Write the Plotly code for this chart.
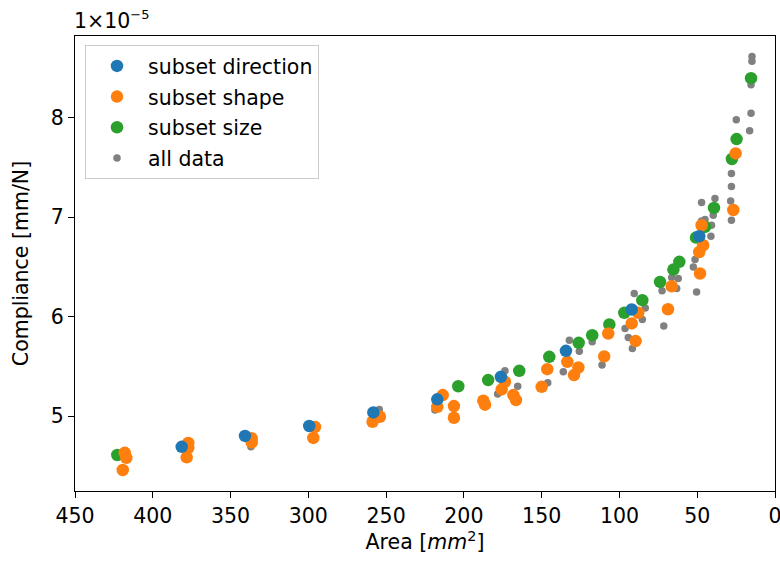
import plotly.graph_objects as go

# Values. Compliance is in units of 1e-5 mm/N (axis offset label "1x10^-5").
dir_area = [381.4, 340.7, 299.4, 258.2, 217.1, 176.2, 134.4, 92.1, 48.7]
dir_comp = [4.69, 4.80, 4.90, 5.037, 5.168, 5.395, 5.656, 6.072, 6.809]

shape_area = [418.0, 417.0, 419.3, 377.2, 377.2, 378.2, 336.4, 336.4, 295.7, 296.8,
              254.0, 258.7, 213.6, 217.1, 206.4, 206.4, 187.5, 186.4, 173.6, 175.7,
              168.2, 166.5, 146.4, 150.0, 133.5, 126.4, 129.2, 107.2, 109.8, 87.9,
              92.1, 89.6, 68.8, 66.4, 47.2, 46.2, 48.7, 48.2, 26.8, 25.3]
shape_comp = [4.63, 4.58, 4.457, 4.73, 4.68, 4.585, 4.776, 4.735, 4.89, 4.78,
              4.993, 4.943, 5.211, 5.093, 5.10, 4.983, 5.155, 5.115, 5.345, 5.268,
              5.211, 5.161, 5.472, 5.294, 5.546, 5.489, 5.412, 5.831, 5.60, 6.039,
              5.932, 5.754, 6.075, 6.306, 6.92, 6.719, 6.651, 6.434, 7.073, 7.643]

size_area = [422.8, 203.6, 184.4, 164.4, 145.1, 126.2, 117.5, 106.5, 96.9, 85.3,
             73.9, 65.3, 61.5, 50.8, 45.0, 39.2, 27.7, 24.7, 15.4]
size_comp = [4.608, 5.30, 5.362, 5.455, 5.596, 5.737, 5.814, 5.922, 6.039, 6.166,
             6.35, 6.474, 6.552, 6.796, 6.903, 7.094, 7.586, 7.787, 8.40]

# remaining measurements of the full data set (not in any subset)
rest_area = [336.9, 254.4, 218.6, 173.6, 178.3, 165.4, 146.1, 132.2, 125.8, 136.1,
             117.5, 111.2, 90.5, 83.4, 85.3, 96.4, 94.3, 91.7, 71.5, 72.6,
             62.2, 66.4, 63.2, 51.4, 52.5, 50.4, 38.6, 47.2, 39.7, 45.0,
             47.2, 40.8, 41.2, 28.0, 28.0, 28.5, 28.0, 14.8, 14.8, 15.4,
             15.4, 24.9, 16.3]
rest_comp = [4.69, 5.067, 5.06, 5.455, 5.221, 5.30, 5.335, 5.764, 5.653, 5.445,
             5.747, 5.513, 6.233, 6.088, 5.972, 5.88, 5.79, 5.68, 5.905, 6.26,
             6.384, 6.394, 6.283, 6.575, 6.50, 6.249, 7.188, 7.148, 7.02, 6.977,
             6.963, 6.92, 6.81, 7.44, 7.31, 7.164, 6.97, 8.618, 8.571, 8.334,
             8.048, 7.982, 7.871]

all_area = rest_area + dir_area + shape_area + size_area
all_comp = rest_comp + dir_comp + shape_comp + size_comp

x_ticks = [450, 400, 350, 300, 250, 200, 150, 100, 50, 0]
y_ticks = [5, 6, 7, 8]

FONT = "DejaVu Sans"
FS = 20.5
fig = go.Figure()
fig.add_trace(go.Scatter(x=all_area, y=all_comp, mode="markers", name="all data",
                         marker=dict(color="#808080", size=7.5, line=dict(width=0)),
                         legendrank=4, legendgroup="d"))
fig.add_trace(go.Scatter(x=size_area, y=size_comp, mode="markers", name="subset size",
                         marker=dict(color="#2ca02c", size=12.5, line=dict(width=0)),
                         legendrank=3, legendgroup="c"))
fig.add_trace(go.Scatter(x=shape_area, y=shape_comp, mode="markers", name="subset shape",
                         marker=dict(color="#ff7f0e", size=12.5, line=dict(width=0)),
                         legendrank=2, legendgroup="b"))
fig.add_trace(go.Scatter(x=dir_area, y=dir_comp, mode="markers", name="subset direction",
                         marker=dict(color="#1f77b4", size=12.5, line=dict(width=0)),
                         legendrank=1, legendgroup="a"))

axis_common = dict(showline=True, linecolor="black", linewidth=1.3, mirror=True,
                   ticks="outside", ticklen=6, tickwidth=1.3, tickcolor="black",
                   showgrid=False, zeroline=False, automargin=False,
                   ticklabeloverflow="allow",
                   tickfont=dict(family=FONT, size=FS, color="black"))
fig.update_xaxes(range=[450, 0], tickvals=x_ticks, ticktext=[str(v) for v in x_ticks],
                 title=dict(text="Area [<i>mm</i><sup>2</sup>]", font=dict(family=FONT, size=FS, color="black"),
                            standoff=6),
                 **axis_common)
fig.update_yaxes(range=[4.246, 8.824], tickvals=y_ticks, ticktext=[str(v) for v in y_ticks],
                 title=dict(text="Compliance [mm/N]", font=dict(family=FONT, size=FS, color="black"),
                            standoff=16),
                 **axis_common)

fig.add_annotation(text="1×10<sup><span style='font-size:13px'>−5</span></sup>",
                   xref="paper", yref="paper", x=0, y=1,
                   xanchor="left", yanchor="bottom", yshift=1, xshift=-3, showarrow=False,
                   font=dict(family=FONT, size=FS, color="black"))

fig.update_layout(
    width=780, height=561,
    margin=dict(l=75, r=5, t=36, b=70, autoexpand=False),
    paper_bgcolor="white", plot_bgcolor="white",
    font=dict(family=FONT, size=FS, color="black"),
    showlegend=True,
    legend=dict(x=0.0143, y=0.98, xanchor="left", yanchor="top",
                bgcolor="rgba(255,255,255,0.8)", bordercolor="#cccccc", borderwidth=1,
                font=dict(family=FONT, size=FS, color="black"),
                traceorder="grouped", tracegroupgap=1, itemwidth=52),
)

fig.write_html("out.html", config={"displayModeBar": False},
               post_script="document.body.style.margin='0px';document.body.style.padding='0px';document.body.style.overflow='hidden';")
